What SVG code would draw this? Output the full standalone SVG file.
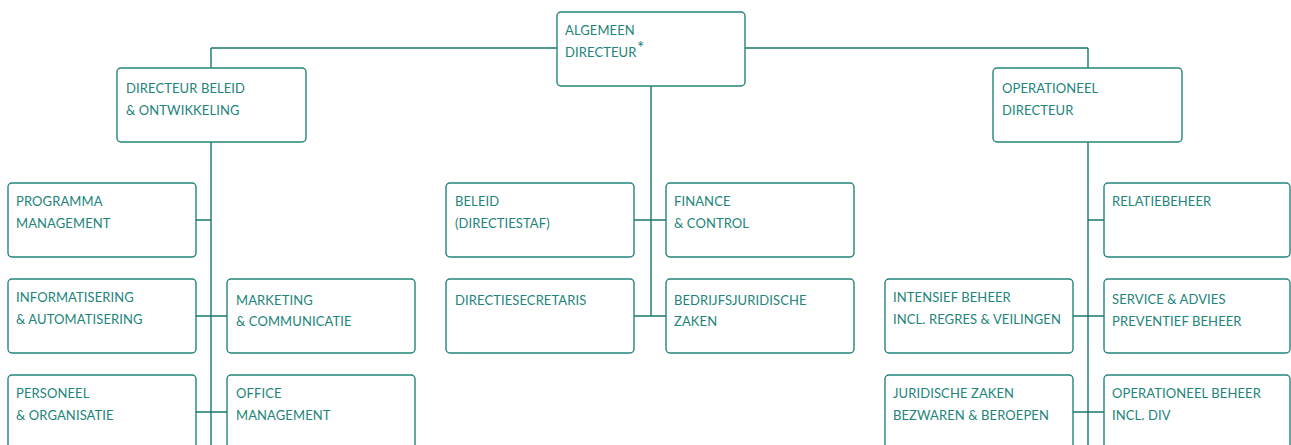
<svg xmlns="http://www.w3.org/2000/svg" width="1291" height="445" viewBox="0 0 1291 445">
<style>
.box{fill:#fff;stroke:#23857a;stroke-width:1.4}
.ln{fill:none;stroke:#17786b;stroke-width:1.4}
text{font-family:Lato,"Open Sans",sans-serif;font-size:13px;fill:#22847a;letter-spacing:0.1px}
.sup{font-size:17px}
</style>
<rect width="1291" height="445" fill="#fff"/>
<g id="connectors">
<path class="ln" d="M211 48H557M745 48H1088M211 48V68M1088 48V68"/>
<path class="ln" d="M651 86V316M634 220H666M634 316H666"/>
<path class="ln" d="M211 142V445M196 220H211M196 316H227M196 412H227"/>
<path class="ln" d="M1088 142V445M1088 220H1104M1073 316H1104M1073 412H1104"/>
</g>
<g id="algemeen-directeur"><rect class="box" x="557" y="12" width="188" height="74" rx="4"/><text x="565" y="35">ALGEMEEN</text><text x="565" y="57">DIRECTEUR<tspan class="sup" dx="0.5" dy="-3">*</tspan></text></g>
<g id="directeur-beleid"><rect class="box" x="117" y="68" width="189" height="74" rx="4"/><text x="126" y="93">DIRECTEUR BELEID</text><text x="126" y="115">&amp; ONTWIKKELING</text></g>
<g id="operationeel-directeur"><rect class="box" x="993" y="68" width="189" height="74" rx="4"/><text x="1002" y="93">OPERATIONEEL</text><text x="1002" y="115">DIRECTEUR</text></g>
<g id="programma"><rect class="box" x="8" y="183" width="188" height="74" rx="4"/><text x="16" y="206">PROGRAMMA</text><text x="16" y="228">MANAGEMENT</text></g>
<g id="informatisering"><rect class="box" x="8" y="279" width="188" height="74" rx="4"/><text x="16" y="302">INFORMATISERING</text><text x="16" y="324">&amp; AUTOMATISERING</text></g>
<g id="marketing"><rect class="box" x="227" y="279" width="188" height="74" rx="4"/><text x="236" y="305">MARKETING</text><text x="236" y="326">&amp; COMMUNICATIE</text></g>
<g id="personeel"><rect class="box" x="8" y="375" width="188" height="74" rx="4"/><text x="16" y="398">PERSONEEL</text><text x="16" y="420">&amp; ORGANISATIE</text></g>
<g id="office"><rect class="box" x="227" y="375" width="188" height="74" rx="4"/><text x="236" y="398">OFFICE</text><text x="236" y="420">MANAGEMENT</text></g>
<g id="beleid"><rect class="box" x="446" y="183" width="188" height="74" rx="4"/><text x="455" y="206">BELEID</text><text x="455" y="228">(DIRECTIESTAF)</text></g>
<g id="finance"><rect class="box" x="666" y="183" width="188" height="74" rx="4"/><text x="674" y="206">FINANCE</text><text x="674" y="228">&amp; CONTROL</text></g>
<g id="directiesecretaris"><rect class="box" x="446" y="279" width="188" height="74" rx="4"/><text x="455" y="305">DIRECTIESECRETARIS</text></g>
<g id="bedrijfsjuridische"><rect class="box" x="666" y="279" width="188" height="74" rx="4"/><text x="674" y="305">BEDRIJFSJURIDISCHE</text><text x="674" y="326">ZAKEN</text></g>
<g id="relatiebeheer"><rect class="box" x="1104" y="183" width="186" height="74" rx="4"/><text x="1112" y="206">RELATIEBEHEER</text></g>
<g id="intensief"><rect class="box" x="885" y="279" width="188" height="74" rx="4"/><text x="893" y="302">INTENSIEF BEHEER</text><text x="893" y="324">INCL. REGRES &amp; VEILINGEN</text></g>
<g id="service"><rect class="box" x="1104" y="279" width="186" height="74" rx="4"/><text x="1112" y="304">SERVICE &amp; ADVIES</text><text x="1112" y="326">PREVENTIEF BEHEER</text></g>
<g id="juridische"><rect class="box" x="885" y="375" width="188" height="74" rx="4"/><text x="893" y="398">JURIDISCHE ZAKEN</text><text x="893" y="420">BEZWAREN &amp; BEROEPEN</text></g>
<g id="operationeel-beheer"><rect class="box" x="1104" y="375" width="186" height="74" rx="4"/><text x="1112" y="398">OPERATIONEEL BEHEER</text><text x="1112" y="420">INCL. DIV</text></g>
</svg>
